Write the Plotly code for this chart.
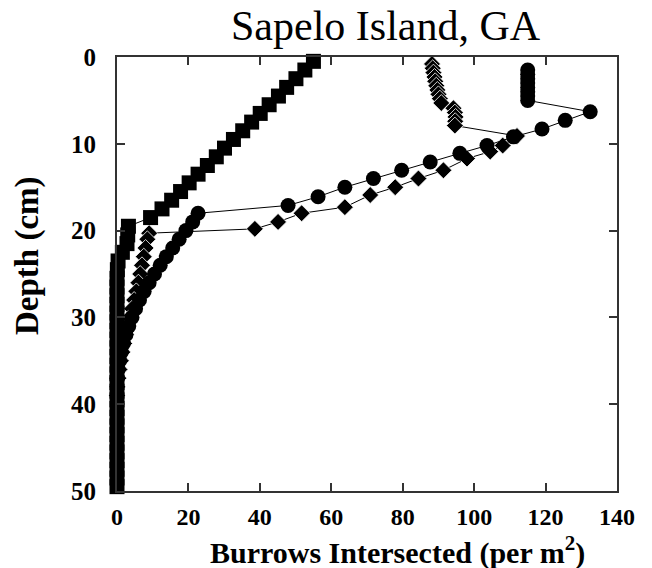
import plotly.graph_objects as go

# ---- data ----
square_depth = [0.5, 1.5, 2.5, 3.5, 4.5, 5.5, 6.5, 7.5, 8.5, 9.5, 10.5, 11.5, 12.5, 13.5,
                14.5, 15.5, 16.5, 17.5, 18.5, 19.5, 20.5, 21.5, 22.5, 23.5, 24.5, 25.5,
                26.5, 27.5, 28.5, 29.5, 30.5, 31.5, 32.5, 33.5, 34.5, 35.5, 36.5, 37.5,
                38.5, 39.5, 40.5, 41.5, 42.5, 43.5, 44.5, 45.5, 46.5, 47.5, 48.5, 49.5]
square_burrows = [55.0, 52.6, 50.1, 47.5, 45.2, 42.6, 40.1, 37.7, 35.2, 32.6, 30.1, 27.8,
                  25.3, 22.7, 20.2, 17.8, 15.3, 12.6, 9.4, 3.2, 3.0, 2.8, 1.5, 0.3, 0.1,
                  0, 0, 0, 0, 0, 0, 0, 0, 0, 0, 0, 0, 0, 0, 0, 0, 0, 0, 0, 0, 0, 0, 0, 0, 0]

circle_depth = [1.5, 2.0, 2.5, 3.0, 3.5, 4.0, 4.5, 5.0, 6.3, 7.3, 8.3, 9.2, 10.2, 11.1,
                12.1, 13.05, 14.0, 15.0, 16.1, 17.1, 18.0, 19, 20, 21, 22, 23, 24, 25,
                26, 27, 28, 29, 30, 31, 32, 33, 34, 35, 36, 37]
circle_burrows = [115, 115, 115, 115, 115, 115, 115, 115, 132.5, 125.5, 119.0, 111.0,
                  103.6, 96.0, 87.7, 79.7, 71.8, 63.8, 56.3, 47.9, 22.7, 21.2, 19.3,
                  17.4, 15.6, 13.8, 12.1, 10.5, 9.0, 7.6, 6.3, 5.2, 4.2, 3.3, 2.5, 1.8,
                  1.2, 0.7, 0.3, 0.0]

diamond_depth = [0.8, 1.3, 1.8, 2.3, 2.8, 3.3, 3.8, 4.3, 4.8, 5.3, 5.9, 6.4, 6.9, 7.4,
                 7.9, 9.1, 10.2, 10.9, 11.7, 13.05, 14.0, 15.0, 15.9, 17.3, 18.0, 19.0,
                 19.8, 20.3, 21, 22, 23, 24, 25, 26, 27, 28, 29, 30, 31, 32, 33, 34,
                 35, 36, 37, 38, 39]
diamond_burrows = [88.2, 88.4, 88.6, 88.9, 89.1, 89.4, 89.7, 90.0, 90.4, 90.8, 94.2,
                   94.6, 94.8, 94.7, 94.6, 112.0, 108.0, 104.5, 98.0, 91.4, 84.4, 77.9,
                   70.9, 63.8, 51.7, 45.1, 38.6, 9.0, 8.5, 8.0, 7.5, 7.0, 6.5, 6.0, 5.4,
                   4.8, 4.2, 3.6, 3.0, 2.5, 2.0, 1.5, 1.1, 0.7, 0.4, 0.1, 0.0]

x_ticks = [0, 20, 40, 60, 80, 100, 120, 140]
y_ticks = [0, 10, 20, 30, 40, 50]

title_text = "Sapelo Island, GA"
x_title = "Burrows Intersected (per m<sup>2</sup>)"
y_title = "Depth (cm)"

SERIF = "Liberation Serif, Times New Roman, serif"

fig = go.Figure()
fig.add_trace(go.Scatter(
    x=diamond_burrows, y=diamond_depth, mode="lines+markers", cliponaxis=False,
    line=dict(color="black", width=1),
    marker=dict(symbol="diamond", size=13, color="black",
                line=dict(color="white", width=0.8)),
    name="diamonds"))
fig.add_trace(go.Scatter(
    x=circle_burrows, y=circle_depth, mode="lines+markers", cliponaxis=False,
    line=dict(color="black", width=1),
    marker=dict(symbol="circle", size=15, color="black", line=dict(width=0)),
    name="circles"))
fig.add_trace(go.Scatter(
    x=square_burrows, y=square_depth, mode="lines+markers", cliponaxis=False,
    line=dict(color="black", width=1),
    marker=dict(symbol="square", size=15, color="black", line=dict(width=0)),
    name="squares"))

axis_common = dict(
    showline=True, linecolor="#333", linewidth=2, mirror="ticks",
    ticks="inside", ticklen=8, tickwidth=1.5, tickcolor="#333",
    showgrid=False, zeroline=False,
)

fig.update_xaxes(range=[0, 140], tickvals=x_ticks, ticktext=[str(v) for v in x_ticks],
                 ticklabelstandoff=3,
                 tickfont=dict(family=SERIF, size=24, color="black", weight="bold"),
                 **axis_common)
fig.update_yaxes(range=[50, 0], tickvals=y_ticks, ticktext=[str(v) for v in y_ticks],
                 ticklabelstandoff=14,
                 tickfont=dict(family=SERIF, size=25, color="black", weight="bold"),
                 **axis_common)

fig.update_layout(
    width=652, height=568,
    margin=dict(l=117, r=35, t=57, b=77),
    plot_bgcolor="white", paper_bgcolor="white",
    showlegend=False,
    hovermode=False,
    annotations=[
        dict(text=title_text, xref="paper", yref="paper", x=0.538, y=1.071,
             xanchor="center", yanchor="middle", showarrow=False,
             font=dict(family=SERIF, size=42, color="black")),
        dict(text=x_title, xref="paper", yref="paper", x=0.56, y=-0.136,
             xanchor="center", yanchor="middle", showarrow=False,
             font=dict(family=SERIF, size=30, color="black", weight="bold")),
        dict(text=y_title, xref="paper", yref="paper", x=-0.178, y=0.5415,
             xanchor="center", yanchor="middle", showarrow=False, textangle=-90,
             font=dict(family=SERIF, size=33, color="black", weight="bold")),
    ],
)

fig.write_html("out.html", config={"displayModeBar": False},
               post_script="document.body.style.margin='0';document.body.style.overflow='hidden';")
